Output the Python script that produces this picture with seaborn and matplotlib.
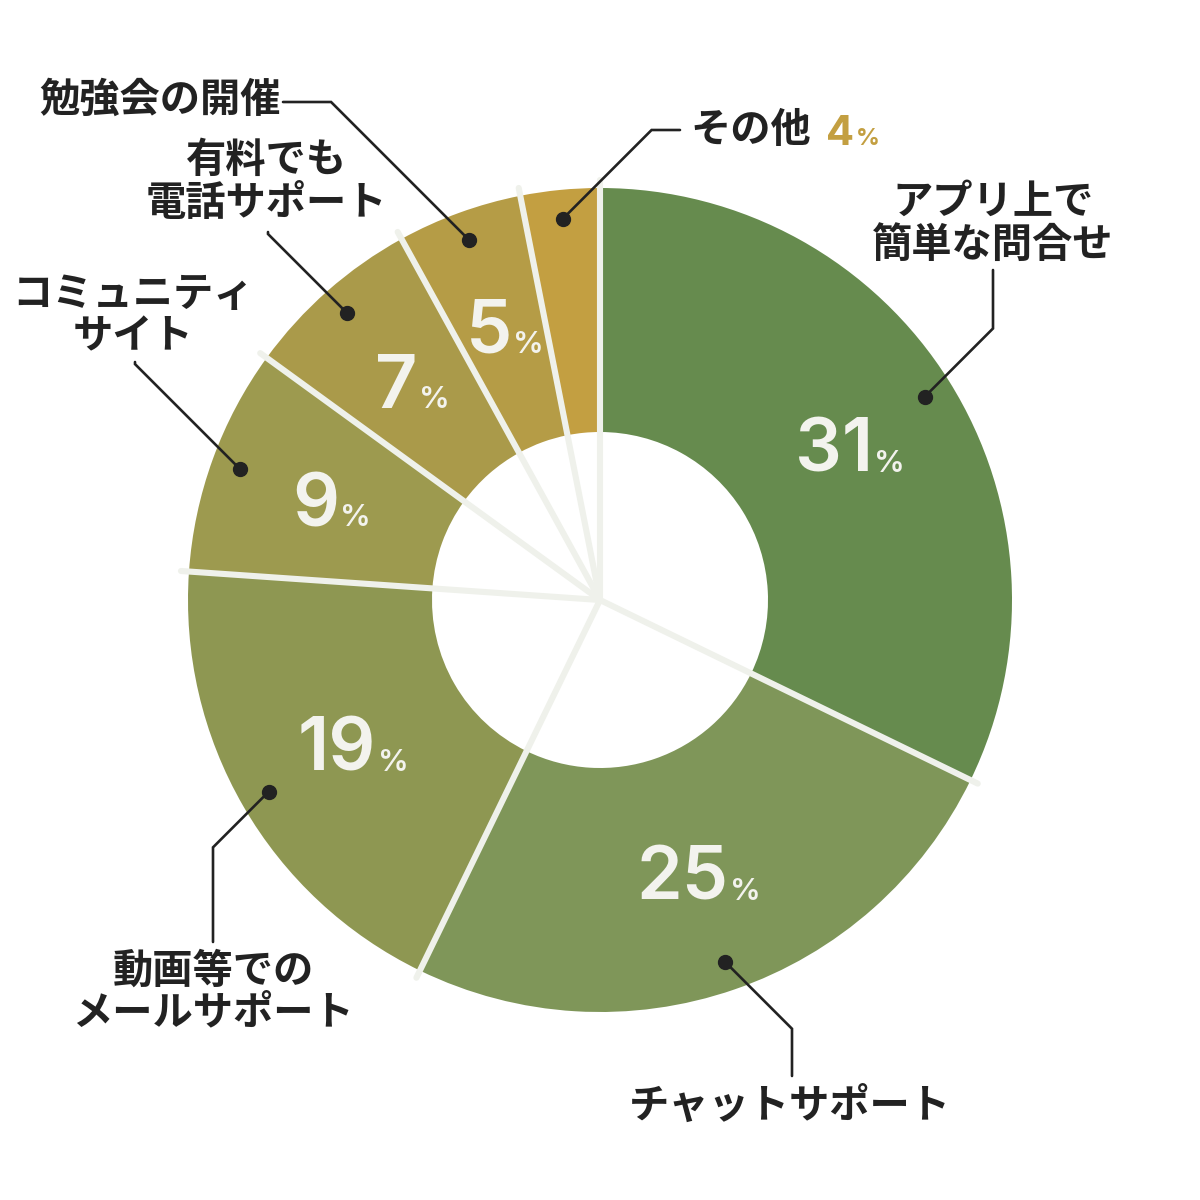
import numpy as np
import matplotlib
matplotlib.use("Agg")
import matplotlib.pyplot as plt
from matplotlib.offsetbox import TextArea, HPacker, AnnotationBbox
import seaborn as sns

# ---- data ----
categories = ["アプリ上で\n簡単な問合せ", "チャットサポート", "動画等での\nメールサポート",
              "コミュニティ\nサイト", "有料でも\n電話サポート", "勉強会の開催", "その他"]
values = [32.2, 25.0, 18.9, 8.9, 7.0, 4.9, 3.1]          # slice shares as drawn
pct_labels = ["31", "25", "19", "9", "7", "5", "4"]       # printed percentages
colors = ["#668B4E", "#7F9659", "#8E9752", "#9D9A4F", "#AA9A4A", "#B59C46", "#C39F41"]

sns.set_theme(style="white")
plt.rcParams['font.family'] = ['Noto Sans CJK JP', 'DejaVu Sans']

W = 1200
fig = plt.figure(figsize=(12, 12), dpi=100)
ax = fig.add_axes([0, 0, 1, 1])

CX, CY = 600, 600
R_OUT, R_IN = 412, 168

def P(x, y):
    """pixel (top-left origin) -> data coords"""
    return x, W - y

ax.pie(values, colors=colors, startangle=90, counterclock=False,
       center=P(CX, CY), radius=R_OUT,
       wedgeprops=dict(width=R_OUT - R_IN, linewidth=0, edgecolor="none"))
ax.set_xlim(0, W)
ax.set_ylim(0, W)
ax.set_aspect("equal")
ax.axis("off")

total = float(sum(values))
cum = np.concatenate([[0], np.cumsum(values)]) / total

def ang(frac):
    return np.deg2rad(90 - 360 * frac)

# separator lines
for f in cum[:-1]:
    a = ang(f)
    ax.plot([CX, CX + 420 * np.cos(a)], [CY, CY + 420 * np.sin(a)],
            color="#EFF1EB", lw=4.4, solid_capstyle="round", zorder=5)

# percentage labels inside slices
num_font = dict(family="Inter", weight=600, color="#F3F3EE")
for i, lab in enumerate(pct_labels[:-1]):
    mid = ang((cum[i] + cum[i + 1]) / 2)
    x, y = CX + 290 * np.cos(mid), CY + 290 * np.sin(mid)
    t1 = TextArea(lab, textprops=dict(fontsize=53, **num_font))
    t2 = TextArea("%", textprops=dict(fontsize=22, **num_font))
    box = HPacker(children=[t1, t2], align="baseline", pad=0, sep=1)
    ab = AnnotationBbox(box, (x + 4, y - 6), frameon=False, box_alignment=(0.5, 0.5), zorder=6)
    ax.add_artist(ab)

# leader layout (pixel coords): (type, coord, end, text_xy, ha)
layout = [
    ("v", 993, 270, (993, 224), "center"),
    ("v", 792, 1076, (790, 1106), "center"),
    ("v", 213, 942, (213, 992), "center"),
    ("v", 135, 362, (133, 316), "center"),
    ("v", 268, 232, (266, 182), "center"),
    ("h", 102, 283, (281, 100), "right"),
    ("h", 130, 680, (690, 131), "left"),
]

ink = "#222222"
for i, (kind, c, end, (tx, ty), ha) in enumerate(layout):
    mid = ang((cum[i] + cum[i + 1]) / 2)
    dx_, dy_ = CX + 383 * np.cos(mid), CY + 383 * np.sin(mid)
    px, py = dx_, W - dy_   # pixel coords of dot
    if kind == "v":
        s = np.sign(end - py)
        ex, ey = c, py + s * abs(c - px)
        pts = [(px, py), (ex, ey), (c, end)]
    else:
        s = np.sign(end - px)
        ex, ey = px + s * abs(c - py), c
        pts = [(px, py), (ex, ey), (end, c)]
    xs = [p[0] for p in pts]
    ys = [W - p[1] for p in pts]
    ax.plot(xs, ys, color=ink, lw=1.9, zorder=7, solid_joinstyle="miter")
    ax.plot([dx_], [dy_], "o", color=ink, ms=10, zorder=8)
    ax.text(*P(tx, ty), categories[i], ha=ha, va="center", fontsize=29,
            fontweight="bold", color=ink, linespacing=1.05, zorder=9)

# small gold "4%" next to その他
gold = dict(family="Inter", weight=700, color=colors[-1])
g1 = TextArea(pct_labels[-1], textprops=dict(fontsize=30, **gold))
g2 = TextArea("%", textprops=dict(fontsize=17, **gold))
gbox = HPacker(children=[g1, g2], align="baseline", pad=0, sep=1)
ax.add_artist(AnnotationBbox(gbox, P(826, 134), frameon=False, box_alignment=(0, 0.5)))

fig.savefig("out.png", dpi=100, facecolor="white")
